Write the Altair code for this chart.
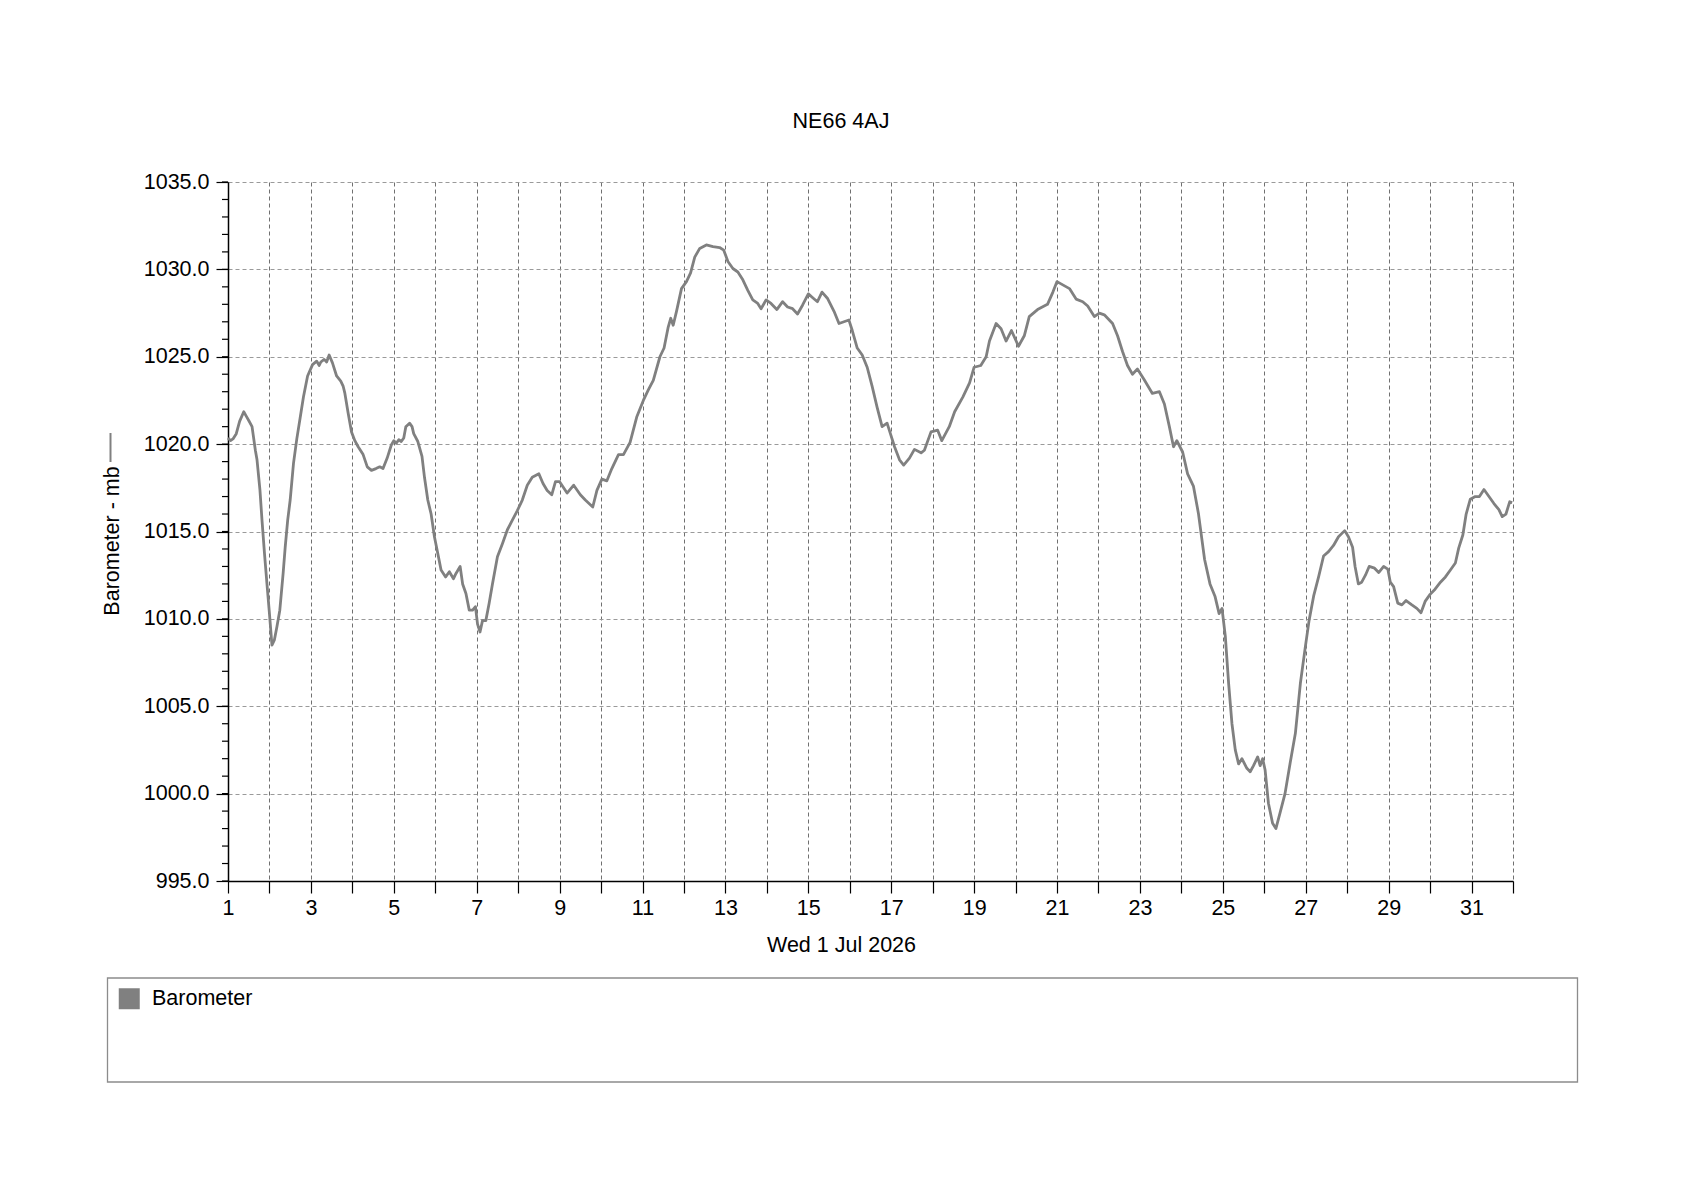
import altair as alt
import pandas as pd

chart_title = "NE66 4AJ"
series_name = "Barometer"
x_title = "Wed 1 Jul 2026"
y_title = "Barometer - mb"

# day of month (fractional) and pressure in mb
day = [
    1.0, 1.06, 1.12, 1.2, 1.28, 1.38, 1.44, 1.5, 1.58, 1.66, 1.7, 1.77, 1.82, 1.88, 1.94,
    2.0, 2.06, 2.12, 2.18, 2.25, 2.33, 2.38, 2.44, 2.5, 2.58, 2.66, 2.74, 2.82, 2.92,
    3.04, 3.14, 3.2, 3.24, 3.32, 3.38, 3.44, 3.52, 3.62, 3.72, 3.78, 3.82, 3.9, 3.98,
    4.06, 4.14, 4.26, 4.36, 4.46, 4.57, 4.66, 4.74, 4.84, 4.94,
    5.0, 5.06, 5.12, 5.18, 5.24, 5.29, 5.38, 5.44, 5.48, 5.58, 5.68, 5.74, 5.82, 5.9, 5.98,
    6.06, 6.14, 6.25, 6.34, 6.44, 6.5, 6.6, 6.66, 6.74, 6.82, 6.9, 6.97,
    7.02, 7.08, 7.14, 7.22, 7.3, 7.38, 7.5, 7.62, 7.74, 7.86, 7.98,
    8.1, 8.22, 8.34, 8.5, 8.6, 8.7, 8.81, 8.9,
    9.0, 9.18, 9.34, 9.5, 9.62, 9.8, 9.9,
    10.02, 10.14, 10.26, 10.42, 10.54, 10.7, 10.86,
    11.02, 11.14, 11.26, 11.42, 11.52, 11.62, 11.68, 11.74, 11.82, 11.94,
    12.06, 12.16, 12.26, 12.38, 12.54, 12.7, 12.86, 12.96,
    13.06, 13.18, 13.3, 13.42, 13.54, 13.66, 13.78, 13.86, 13.98,
    14.1, 14.24, 14.38, 14.5, 14.62, 14.74, 14.86,
    15.0, 15.12, 15.22, 15.33, 15.46, 15.62, 15.74, 15.86, 15.98,
    16.06, 16.18, 16.3, 16.42, 16.54, 16.66, 16.78, 16.9, 16.98,
    17.08, 17.2, 17.3, 17.44, 17.56, 17.72, 17.8, 17.96,
    18.12, 18.22, 18.4, 18.53, 18.73, 18.89,
    19.0, 19.16, 19.29, 19.37, 19.53, 19.65, 19.77, 19.9,
    20.07, 20.21, 20.33, 20.53, 20.77, 20.9,
    21.0, 21.3, 21.46, 21.62, 21.74, 21.9,
    22.02, 22.14, 22.34, 22.46, 22.58, 22.7, 22.82, 22.94,
    23.1, 23.3, 23.47, 23.59, 23.71, 23.81, 23.89,
    24.03, 24.15, 24.29, 24.41, 24.56, 24.69, 24.81, 24.91, 24.98,
    25.06, 25.14, 25.22, 25.3, 25.38, 25.46, 25.58, 25.66, 25.74, 25.84, 25.9, 25.96,
    26.02, 26.1, 26.2, 26.28, 26.38, 26.5, 26.62, 26.75, 26.87, 26.99,
    27.08, 27.19, 27.31, 27.43, 27.55, 27.67, 27.79, 27.94,
    28.03, 28.13, 28.19, 28.27, 28.35, 28.44, 28.53, 28.66, 28.76, 28.88, 28.98,
    29.04, 29.12, 29.22, 29.32, 29.42, 29.56, 29.68, 29.78, 29.88,
    30.0, 30.12, 30.25, 30.37, 30.49, 30.61, 30.69, 30.79, 30.87, 30.97,
    31.09, 31.19, 31.3, 31.42, 31.54, 31.66, 31.74, 31.83, 31.92, 31.98,
]
pressure = [
    1020.35, 1020.2, 1020.3, 1020.6, 1021.3, 1021.85, 1021.6, 1021.35, 1021.0, 1019.65, 1019.1, 1017.4, 1015.65, 1013.75, 1012.0,
    1010.3, 1008.5, 1008.8, 1009.55, 1010.5, 1012.6, 1014.1, 1015.65, 1016.8, 1018.9, 1020.3, 1021.5, 1022.7, 1023.9,
    1024.55, 1024.75, 1024.5, 1024.7, 1024.85, 1024.7, 1025.1, 1024.65, 1023.9, 1023.6, 1023.3, 1022.9, 1021.75, 1020.7,
    1020.2, 1019.85, 1019.4, 1018.7, 1018.5, 1018.6, 1018.7, 1018.6, 1019.2, 1019.95,
    1020.2, 1020.05, 1020.25, 1020.15, 1020.35, 1021.0, 1021.2, 1021.0, 1020.6, 1020.15, 1019.3, 1018.1, 1016.8, 1016.0, 1014.7,
    1013.75, 1012.8, 1012.4, 1012.7, 1012.3, 1012.6, 1013.0, 1012.0, 1011.45, 1010.5, 1010.5, 1010.7,
    1009.7, 1009.25, 1009.9, 1009.9, 1010.9, 1012.0, 1013.55, 1014.3, 1015.1, 1015.65, 1016.2,
    1016.8, 1017.65, 1018.1, 1018.3, 1017.75, 1017.35, 1017.1, 1017.85,
    1017.85, 1017.2, 1017.65, 1017.1, 1016.8, 1016.4, 1017.35,
    1018.0, 1017.9, 1018.6, 1019.4, 1019.4, 1020.1, 1021.55,
    1022.5, 1023.1, 1023.65, 1025.0, 1025.5, 1026.7, 1027.2, 1026.8, 1027.6, 1028.9,
    1029.3, 1029.8, 1030.7, 1031.2, 1031.4, 1031.3, 1031.25, 1031.1,
    1030.45, 1030.05, 1029.85, 1029.4, 1028.8, 1028.25, 1028.05, 1027.75, 1028.25,
    1028.05, 1027.7, 1028.15, 1027.85, 1027.75, 1027.45, 1027.95,
    1028.6, 1028.35, 1028.15, 1028.7, 1028.35, 1027.6, 1026.9, 1027.0, 1027.1,
    1026.5, 1025.5, 1025.1, 1024.4, 1023.3, 1022.1, 1021.0, 1021.2, 1020.6,
    1019.85, 1019.1, 1018.8, 1019.2, 1019.7, 1019.5, 1019.65, 1020.7,
    1020.8, 1020.2, 1021.0, 1021.85, 1022.7, 1023.5,
    1024.4, 1024.5, 1025.0, 1025.9, 1026.9, 1026.6, 1025.9, 1026.5,
    1025.6, 1026.2, 1027.3, 1027.7, 1028.0, 1028.7,
    1029.3, 1028.9, 1028.3, 1028.15, 1027.9, 1027.3,
    1027.5, 1027.4, 1026.9, 1026.2, 1025.3, 1024.5, 1024.0, 1024.3,
    1023.7, 1022.9, 1023.0, 1022.3, 1021.0, 1019.85, 1020.2,
    1019.55, 1018.3, 1017.6, 1016.05, 1013.4, 1012.0, 1011.3, 1010.3, 1010.6,
    1009.0, 1006.3, 1004.0, 1002.5, 1001.7, 1002.0, 1001.45, 1001.25, 1001.6, 1002.1, 1001.6, 1002.0,
    1001.35, 999.45, 998.3, 998.0, 998.9, 1000.0, 1001.7, 1003.45, 1006.3, 1008.4,
    1009.9, 1011.3, 1012.4, 1013.6, 1013.85, 1014.2, 1014.7, 1015.05,
    1014.7, 1014.1, 1013.0, 1012.0, 1012.1, 1012.5, 1013.0, 1012.9, 1012.65, 1013.0, 1012.85,
    1012.1, 1011.85, 1010.9, 1010.8, 1011.05, 1010.8, 1010.6, 1010.35, 1011.0,
    1011.4, 1011.7, 1012.1, 1012.4, 1012.8, 1013.2, 1014.05, 1014.8, 1016.0, 1016.85,
    1017.0, 1017.0, 1017.4, 1017.0, 1016.6, 1016.25, 1015.85, 1016.0, 1016.7, 1016.65,
]

x_ticks = list(range(1, 33))
y_ticks = [995, 1000, 1005, 1010, 1015, 1020, 1025, 1030, 1035]
y_minor = list(range(995, 1036))

FONT = "Liberation Sans"
GREY = "#808080"
FS = 21.5

df = pd.DataFrame({"day": day, "mb": pressure, "series": series_name})
one = pd.DataFrame({"k": [0]})

x_scale = alt.Scale(domain=[1, 32], nice=False, zero=False)
y_scale = alt.Scale(domain=[995, 1035], nice=False, zero=False)

x_axis = alt.Axis(
    values=x_ticks, labelOverlap=False, labelFlush=False, labelPadding=4,
    labelExpr="datum.value % 2 == 1 && datum.value < 32 ? datum.label : ''",
    gridColor="#707070", titleX=613, titleY=70, titleAlign="center",
    titleBaseline="alphabetic",
)
y_axis = alt.Axis(
    values=y_ticks, format=".1f", labelPadding=7, labelFlush=False, gridColor="#9a9a9a",
    titleAngle=270, titleX=-110, titleY=358.5, titleAlign="center",
    titleBaseline="alphabetic",
)

line = alt.Chart(df).mark_line(strokeWidth=2.8, strokeJoin="round").encode(
    x=alt.X("day:Q", scale=x_scale, title=x_title, axis=x_axis),
    y=alt.Y("mb:Q", scale=y_scale, title=y_title, axis=y_axis),
    color=alt.Color("series:N", scale=alt.Scale(domain=[series_name], range=[GREY]),
                    legend=alt.Legend(title=None, orient="none", legendX=-109.5, legendY=806,
                                      symbolType="square", symbolSize=441,
                                      symbolFillColor=GREY, symbolStrokeColor=GREY,
                                      symbolStrokeWidth=0, symbolOpacity=1,
                                      labelFont=FONT, labelFontSize=FS, labelColor="black",
                                      labelOffset=12, padding=0)),
)

# minor ticks on the pressure axis (every 1 mb)
minor = alt.Chart(pd.DataFrame({"mb": y_minor})).mark_rule(color="black", strokeWidth=1.2).encode(
    y=alt.Y("mb:Q", scale=y_scale, title=y_title, axis=y_axis),
    x=alt.value(-6), x2=alt.value(0),
)

# short line sample after the y-axis title
sample = alt.Chart(one).mark_rule(color=GREY, strokeWidth=2).encode(
    x=alt.value(-117.5), y=alt.value(251), y2=alt.value(280),
)

# legend frame
frame = alt.Chart(one).mark_rect(fillOpacity=0, stroke="#8c8c8c", strokeWidth=1.3).encode(
    x=alt.value(-120.5), x2=alt.value(1349.5), y=alt.value(796), y2=alt.value(900),
)

chart = alt.layer(frame, line, minor, sample).properties(
    width=1285, height=699,
    title=alt.TitleParams(chart_title, font=FONT, fontSize=FS, fontWeight="normal",
                          anchor="middle", dx=-29.5, offset=22, baseline="alphabetic",
                          color="black"),
    autosize=alt.AutoSizeParams(type="none"),
    padding={"left": 220, "top": 174, "right": 160, "bottom": 290},
).configure_view(strokeWidth=0).configure_axis(
    domainColor="black", domainWidth=1.5, tickColor="black", tickSize=12, tickWidth=1.2,
    labelFont=FONT, labelFontSize=FS, labelColor="black",
    titleFont=FONT, titleFontSize=FS, titleFontWeight="normal", titleColor="black",
    gridDash=[4, 3], gridWidth=1,
)

chart.save("out.html", embed_options={"renderer": "svg", "actions": False})
